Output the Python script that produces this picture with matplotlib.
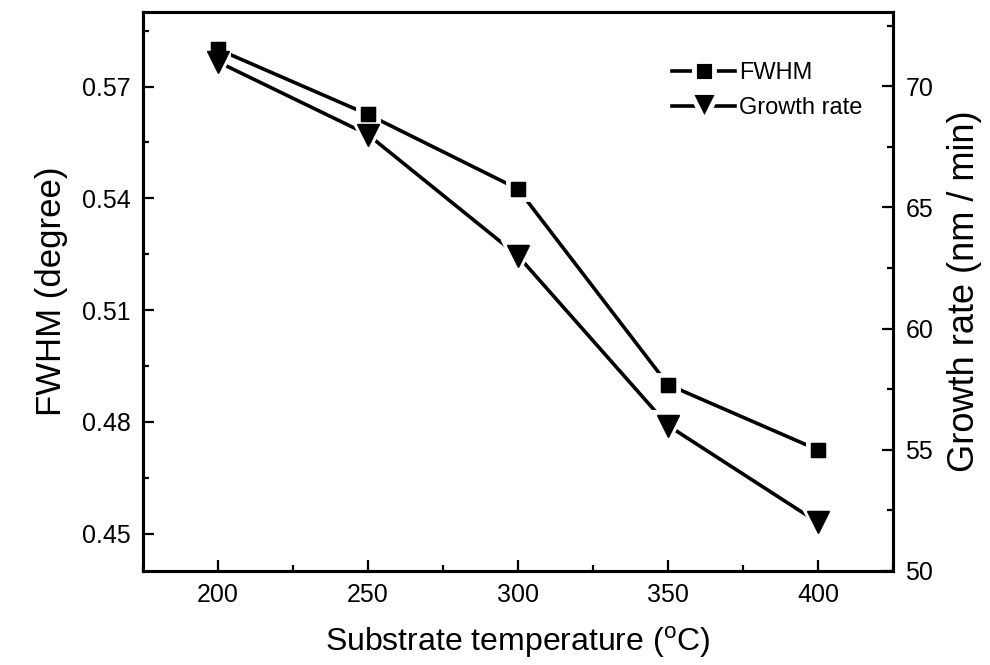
import matplotlib
matplotlib.use("Agg")
import matplotlib.pyplot as plt
from matplotlib.ticker import MultipleLocator

# datos
temperatura = [200, 250, 300, 350, 400]
fwhm = [0.580, 0.5625, 0.5425, 0.490, 0.4725]
velocidad = [71.0, 68.0, 63.0, 56.0, 52.0]

plt.rcParams["font.family"] = ["Liberation Sans", "DejaVu Sans"]
plt.rcParams["mathtext.fontset"] = "custom"
plt.rcParams["mathtext.rm"] = "Liberation Sans"

fig = plt.figure(figsize=(9.9, 6.65), dpi=100)
ax = fig.add_axes([0.1444, 0.1414, 0.7576, 0.8406])
ax2 = ax.twinx()
ax.set_zorder(ax2.get_zorder() + 1)
ax.patch.set_visible(False)

ax.set_xlim(175, 425)
ax.set_ylim(0.44, 0.59)
ax2.set_ylim(50, 73.06)

# lineas con hueco alrededor de los marcadores (borde blanco)
l1, = ax.plot(temperatura, fwhm, color="black", lw=2.6, marker="s", ms=14,
              mfc="black", mec="white", mew=3.5, label="FWHM")
l2, = ax2.plot(temperatura, velocidad, color="black", lw=2.6, marker="v", ms=20,
               mfc="black", mec="white", mew=3.5, label="Growth rate")
# marcadores negros encima, para que se fundan donde se solapan
ax.plot(temperatura, velocidad, ls="none", marker="v", ms=15.5, color="black",
        zorder=5, transform=ax2.transData)
ax.plot(temperatura, fwhm, ls="none", marker="s", ms=10.5, color="black", zorder=5)
ax.set_xlim(175, 425)
ax.set_ylim(0.44, 0.59)

ax.xaxis.set_major_locator(MultipleLocator(50))
ax.xaxis.set_minor_locator(MultipleLocator(25))
ax.yaxis.set_minor_locator(MultipleLocator(0.015))
ax2.yaxis.set_major_locator(MultipleLocator(5))
ax2.yaxis.set_minor_locator(MultipleLocator(2.5))
ax.set_yticks([0.45, 0.48, 0.51, 0.54, 0.57])
ax.set_yticklabels(["0.45", "0.48", "0.51", "0.54", "0.57"])

for a in (ax, ax2):
    for s in a.spines.values():
        s.set_linewidth(2.2)
ax.tick_params(which="both", direction="in", top=False, right=False, width=1.6, labelsize=18)
ax.tick_params(which="major", length=8, pad=9)
ax.tick_params(which="minor", length=4)
ax2.tick_params(which="both", direction="in", width=1.6, labelsize=18)
ax2.tick_params(which="major", length=8, pad=9)
ax2.tick_params(which="minor", length=4)

ax.set_xlabel(r"Substrate temperature ($^{\mathrm{o}}$C)", fontsize=23, labelpad=12)
ax.set_ylabel("FWHM (degree)", fontsize=25, labelpad=10)
ax2.set_ylabel("Growth rate (nm / min)", fontsize=26, labelpad=10)

ax.legend(handles=[l1, l2], loc="upper left", bbox_to_anchor=(0.705, 0.91),
          frameon=False, fontsize=17, handlelength=2.7, handletextpad=0.15,
          labelspacing=0.55, borderpad=0, borderaxespad=0)

fig.savefig("out.png", dpi=100)
